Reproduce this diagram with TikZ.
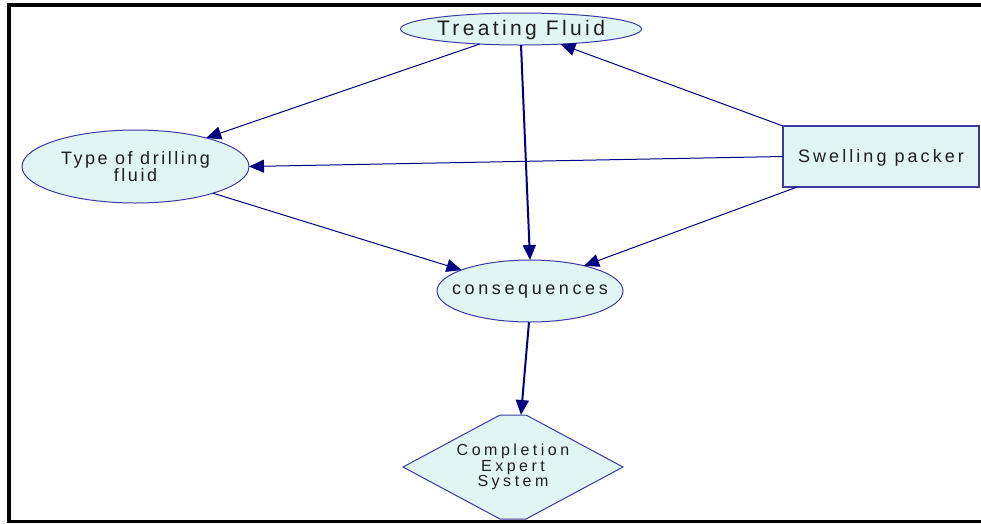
\documentclass[tikz,border=0pt]{standalone}
\usepackage{fontspec}
\setmainfont{Liberation Sans}
\newfontfamily\titlefont[LetterSpace=16]{Liberation Sans}
\newfontfamily\drillfont[LetterSpace=14]{Liberation Sans}
\newfontfamily\packerfont[LetterSpace=17]{Liberation Sans}
\newfontfamily\conseqfont[LetterSpace=20]{Liberation Sans}
\newfontfamily\expertfont[LetterSpace=22]{Liberation Sans}
\usetikzlibrary{arrows.meta,calc,shapes.geometric}
\definecolor{edgeblue}{RGB}{0,0,128}
\definecolor{rimblue}{RGB}{58,58,160}
\definecolor{nodefill}{RGB}{226,245,245}
\definecolor{inktext}{RGB}{30,30,30}
\begin{document}
\begin{tikzpicture}[x=1pt,y=-1pt,
  every node/.style={inner sep=0pt, outer sep=0pt, text=inktext, align=center},
  bubble/.style={ellipse, draw=rimblue, fill=nodefill, line width=1pt},
  boxnode/.style={rectangle, draw=rimblue, fill=nodefill, line width=1.6pt},
  link/.style={draw=edgeblue, line width=1pt, -{Triangle[length=15pt,width=13pt]}},
  boldlink/.style={link, line width=2pt},
  frameline/.style={draw=black, line cap=rect},
]
\useasboundingbox (0,0) rectangle (981,523);

% outer frame (open on the right)
\draw[frameline, line width=4pt] (981,5) -- (9,5) -- (9,521);
\draw[frameline, line width=2.5pt] (9,521.5) -- (981,521.5);

% node outlines
\node[bubble, minimum width=241pt, minimum height=32pt] (tf) at (521,29) {};
\node[bubble, minimum width=227pt, minimum height=73pt] (tdf) at (135.5,166.5) {};
\node[boxnode, minimum width=196pt, minimum height=61pt] (sp) at (881,156.5) {};
\node[bubble, minimum width=186pt, minimum height=62pt] (cq) at (530,291) {};
\node[minimum width=220pt, minimum height=104pt] (ces) at (513,467) {};
\draw[draw=rimblue, fill=nodefill, line width=1pt]
  (ces.west) -- ([xshift=-13pt]ces.north) -- ([xshift=13pt]ces.north)
  -- (ces.east) -- ([xshift=13pt]ces.south) -- ([xshift=-13pt]ces.south) -- cycle;

% node labels
\node[font=\titlefont\fontsize{21}{22}\selectfont] (tf-lbl) at ([yshift=-1pt]tf.center)
  {Treating Fluid};
\node[font=\drillfont\fontsize{18}{16}\selectfont] (tdf-lbl) at ([yshift=0pt]tdf.center)
  {Type of drilling\\fluid};
\node[font=\packerfont\fontsize{18}{18}\selectfont] (sp-lbl) at ([yshift=-1pt]sp.center)
  {Swelling packer};
\node[font=\conseqfont\fontsize{18}{18}\selectfont] (cq-lbl) at ([yshift=-1pt]cq.center)
  {consequences};
\node[font=\expertfont\fontsize{16}{15.5}\selectfont] (ces-lbl) at (ces.center)
  {Completion\\Expert\\System};

% connectors
\draw[link] (tf.200) -- (tdf.22);
\draw[boldlink] (tf.south) -- (cq.north);
\draw[link] (sp.north west) -- (tf.-21);
\draw[link] (sp.west) -- (tdf.east);
\draw[link] (sp.200) -- (cq.25);
\draw[link] (tdf.-19) -- (cq.163);
\draw[boldlink] ([xshift=-1pt]cq.south) -- ([xshift=8pt]ces.north);
\end{tikzpicture}
\end{document}
